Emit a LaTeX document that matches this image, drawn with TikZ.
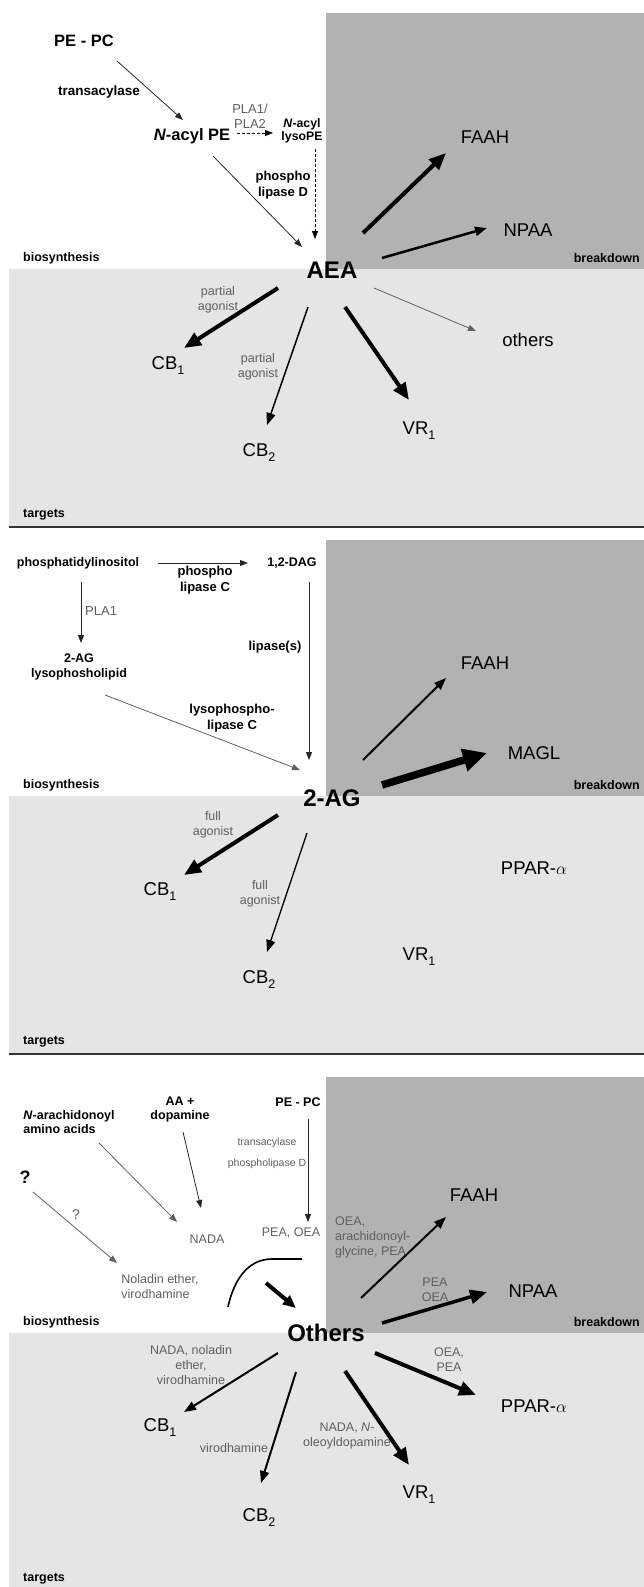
\documentclass[tikz,border=0pt]{standalone}
\usepackage{fontspec}
\setmainfont{Liberation Sans}
\usepackage{tikz}
\usetikzlibrary{arrows.meta,calc}
\definecolor{darkbox}{RGB}{178,178,178}
\definecolor{lightbox}{RGB}{229,229,229}
\definecolor{notegray}{RGB}{95,95,95}
\newcommand{\lowidx}[1]{\raisebox{-5pt}{\fontsize{12.5}{13}\selectfont #1}}

\begin{document}
\begin{tikzpicture}[x=1pt, y=-1pt,
  every node/.style={inner sep=0pt, align=center},
  hub/.style={font=\fontsize{24}{26}\selectfont\bfseries},
  rcpt/.style={font=\fontsize{18.5}{20}\selectfont},
  src/.style={font=\fontsize{16.5}{18}\selectfont\bfseries},
  bnote/.style={font=\fontsize{12.5}{14}\selectfont\bfseries},
  enz/.style={font=\fontsize{13}{16}\selectfont\bfseries},
  gnote/.style={font=\fontsize{12.5}{15}\selectfont, text=notegray},
  tnote/.style={font=\fontsize{10.5}{12}\selectfont, text=notegray},
  thinarr/.style={line width=0.8pt, black!85, -{Triangle[length=8pt,width=6pt]}},
  midarr/.style={line width=2pt, -{Triangle[length=12pt,width=9pt]}},
  thickarr/.style={line width=4pt, -{Triangle[length=17pt,width=14pt]}},
  hugearr/.style={line width=7.5pt, -{Triangle[length=24pt,width=22pt]}},
  dasharr/.style={line width=0.8pt, dash pattern=on 3pt off 2pt, -{Triangle[length=8pt,width=6pt]}}]

\useasboundingbox (0,0) rectangle (644,1587);
%\draw [help lines, step=10](0,0) grid (644,1587);

\foreach \s in {0,527,1064}{
  \fill [darkbox] (326,\s+13) rectangle (644,\s+269);
  \fill [lightbox] (9,\s+269) rectangle (644,\s+526);
  \node [bnote, anchor=west] (bio\s) at (23,\s+258) {biosynthesis};
  \node [bnote, anchor=east] (brk\s) at (640,\s+258) {breakdown};
  \node [bnote, anchor=west] (tgt\s) at (23,\s+515) {targets};
}
\foreach \s in {527,1054}
  \draw [line width=2pt, black!80] (9,\s) -- (644,\s);

% anandamide
\node [src] (pepc) at (84,41) {PE - PC};
\node [font=\fontsize{13.5}{15}\selectfont\bfseries] (trans) at (99,92) {transacylase};
\node [src] (nape) at (192,136) {\textit{N}-acyl PE};
\node [gnote, font=\fontsize{13}{15}\selectfont] (pla) at (250,116) {PLA1/\\PLA2};
\node [font=\fontsize{12.3}{13}\selectfont\bfseries] (lysope) at (302,131) {\textit{N}-acyl\\lysoPE};
\node [enz] (pld) at (283,185) {phospho\\lipase D};
\node [hub] (aea) at (332,270) {AEA};
\node [rcpt] (faah1) at (485,137) {FAAH};
\node [rcpt] (npaa1) at (528,230) {NPAA};
\node [rcpt] (other1) at (528,340) {others};
\node [rcpt] (cb11) at (168,366) {CB\lowidx{1}};
\node [rcpt] (cb21) at (259,453) {CB\lowidx{2}};
\node [rcpt] (vr11) at (419,431) {VR\lowidx{1}};
\node [gnote] (parta) at (218,300) {partial\\agonist};
\node [gnote] (partb) at (258,367) {partial\\agonist};

\draw [thinarr] ($(pepc)+(33,20)$) -- ($(nape)+(-9,-16)$);
\draw [dasharr] ($(nape)+(45,-3)$) -- ($(lysope)+(-29,2)$);
\draw [dasharr] ($(lysope)+(13,18)$) -- ($(aea)+(-17,-31)$);
\draw [thinarr] ($(nape)+(21,20)$) -- ($(aea)+(-30,-23)$);
\draw [thickarr] ($(aea)+(31,-37)$) -- ($(faah1)+(-39,16)$);
\draw [midarr, line width=2.5pt] ($(aea)+(50,-12)$) -- ($(npaa1)+(-41,-2)$);
\draw [thickarr] ($(aea)+(-54,18)$) -- ($(cb11)+(16,-18)$);
\draw [midarr, line width=1.5pt] ($(aea)+(-24,37)$) -- ($(cb21)+(8,-28)$);
\draw [thickarr] ($(aea)+(13,37)$) -- ($(vr11)+(-10,-31)$);
\draw [thinarr, notegray] ($(aea)+(42,18)$) -- ($(other1)+(-52,-9)$);

% 2-AG
\begin{scope}[shift={(0,527)}]
\node [bnote] (pi) at (78,36) {phosphatidylinositol};
\node [bnote] (dag) at (292,36) {1,2-DAG};
\node [enz] (plc) at (205,53) {phospho\\lipase C};
\node [font=\fontsize{12.5}{15}\selectfont\bfseries] (aglyso) at (79,140) {2-AG\\lysophosholipid};
\node [gnote, font=\fontsize{13}{15}\selectfont, anchor=west] (pla1) at (85,84) {PLA1};
\node [enz] (lipase) at (275,120) {lipase(s)};
\node [enz] (lysoplc) at (232,191) {lysophospho-\\lipase C};
\node [hub] (ag) at (332,271) {2-AG};
\node [rcpt] (faah2) at (485,136) {FAAH};
\node [rcpt] (magl) at (534,226) {MAGL};
\node [rcpt] (ppar2) at (534,341) {PPAR-$\alpha$};
\node [rcpt] (cb12) at (160,365) {CB\lowidx{1}};
\node [rcpt] (cb22) at (259,453) {CB\lowidx{2}};
\node [rcpt] (vr12) at (419,430) {VR\lowidx{1}};
\node [gnote] (fulla) at (213,298) {full\\agonist};
\node [gnote] (fullb) at (260,367) {full\\agonist};

\draw [thinarr, line width=1pt] ($(pi)+(80,0)$) -- ($(dag)+(-44,0)$);
\draw [thinarr, line width=1pt] ($(pi)+(3,19)$) -- ($(aglyso)+(2,-24)$);
\draw [thinarr, line width=1pt] ($(dag)+(17,19)$) -- ($(ag)+(-23,-38)$);
\draw [thinarr, notegray] ($(aglyso)+(26,28)$) -- ($(ag)+(-32,-28)$);
\draw [midarr] ($(ag)+(31,-38)$) -- ($(faah2)+(-39,15)$);
\draw [hugearr] ($(ag)+(50,-13)$) -- ($(magl)+(-47,0)$);
\draw [thickarr] ($(ag)+(-54,17)$) -- ($(cb12)+(24,-17)$);
\draw [midarr, line width=1.3pt] ($(ag)+(-25,35)$) -- ($(cb22)+(8,-28)$);
\end{scope}

% others
\begin{scope}[shift={(0,1064)}]
\node [bnote, align=left] (narach) at (69,58) {\textit{N}-arachidonoyl\\amino acids};
\node [bnote] (aadop) at (180,45) {AA +\\dopamine};
\node [bnote] (pepc3) at (298,38) {PE - PC};
\node [font=\fontsize{18}{20}\selectfont\bfseries] (qa) at (25,113) {?};
\node [gnote, font=\fontsize{14}{15}\selectfont] (qb) at (76,151) {?};
\node [tnote] (trans3) at (267,79) {transacylase};
\node [tnote] (pld3) at (267,100) {phospholipase D};
\node [gnote] (nada) at (207,175) {NADA};
\node [gnote] (peaoea) at (291,169) {PEA, OEA};
\node [gnote, align=left] (noladin) at (160,223) {Noladin ether,\\virodhamine};
\node [hub] (oth) at (326,269) {Others};
\node [rcpt] (faah3) at (474,131) {FAAH};
\node [rcpt] (npaa3) at (533,227) {NPAA};
\node [rcpt] (ppar3) at (534,342) {PPAR-$\alpha$};
\node [rcpt] (cb13) at (160,364) {CB\lowidx{1}};
\node [rcpt] (cb23) at (259,454) {CB\lowidx{2}};
\node [rcpt] (vr13) at (419,431) {VR\lowidx{1}};
\node [gnote, align=left, anchor=west] (oeaa) at (335,173) {OEA,\\arachidonoyl-\\glycine, PEA};
\node [gnote] (peab) at (435,226) {PEA\\OEA};
\node [gnote] (nadab) at (191,301) {NADA, noladin\\ether,\\virodhamine};
\node [gnote] (virob) at (234,384) {virodhamine};
\node [gnote] (nadac) at (347,372) {NADA, \textit{N}-\\oleoyldopamine};
\node [gnote] (oeac) at (449,296) {OEA,\\PEA};
\coordinate (kink) at (266,219);

\draw [thinarr, notegray] ($(qa)+(8,15)$) -- ($(noladin)+(-43,-24)$);
\draw [thinarr, notegray] ($(narach)+(30,21)$) -- ($(nada)+(-30,-17)$);
\draw [thinarr] ($(aadop)+(3,23)$) -- ($(nada)+(-6,-31)$);
\draw [thinarr] ($(pepc3)+(10,17)$) -- ($(peaoea)+(17,-11)$);
\draw [line width=1.6pt] (228,243) to[out=78, in=180] (272,195) -- (302,195);
\draw [thickarr, -{Triangle[length=13pt,width=11pt]}] (kink) -- ($(oth)+(-30,-25)$);
\draw [midarr] ($(oth)+(35,-35)$) -- ($(faah3)+(-28,22)$);
\draw [thickarr, line width=3.5pt] ($(oth)+(56,-10)$) -- ($(npaa3)+(-46,1)$);
\draw [midarr] ($(oth)+(-48,20)$) -- ($(cb13)+(24,-16)$);
\draw [midarr] ($(oth)+(-30,39)$) -- ($(cb23)+(2,-35)$);
\draw [thickarr] ($(oth)+(19,38)$) -- ($(vr13)+(-10,-30)$);
\draw [thickarr] ($(oth)+(49,20)$) -- ($(ppar3)+(-58,-11)$);
\end{scope}

\end{tikzpicture}
\end{document}
